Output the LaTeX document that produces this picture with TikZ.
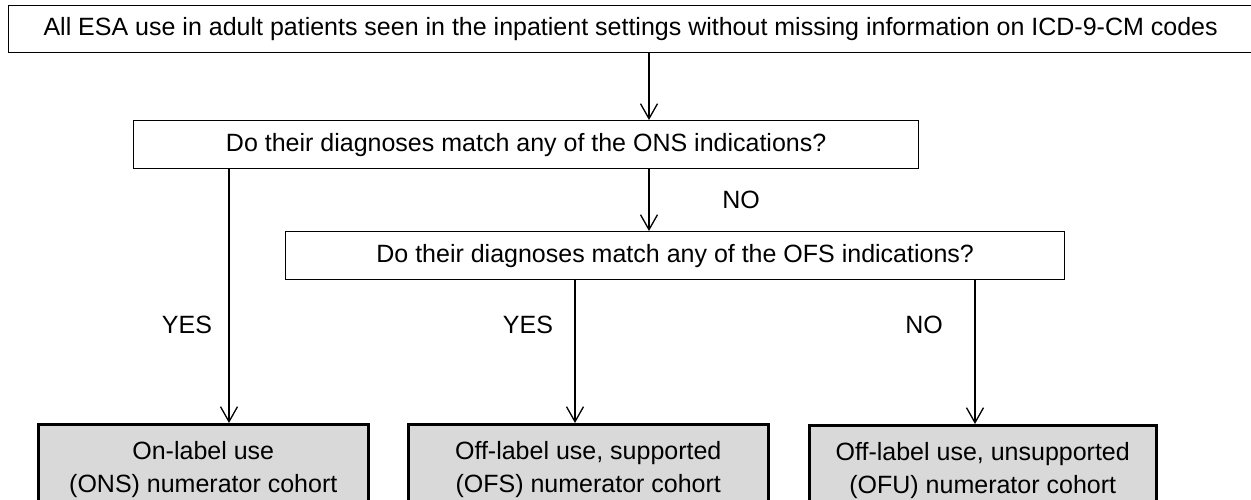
\documentclass[tikz,border=0pt]{standalone}
\usepackage{fontspec}
\setmainfont{Liberation Sans}
\usetikzlibrary{arrows.meta}
\definecolor{cohortfill}{HTML}{D9D9D9}
\begin{document}
\begin{tikzpicture}[x=1pt,y=-1pt,
  every node/.style={font=\fontsize{25}{33}\selectfont},
  question/.style={draw, line width=1.3pt, anchor=north west, inner sep=0pt},
  cohort/.style={draw, line width=2.5pt, fill=cohortfill, anchor=north west,
    inner sep=0pt, align=center, minimum height=90pt},
  flow/.style={line width=1.3pt, -{Straight Barb[length=15pt,width=17pt,line width=1.3pt]}},
  answer/.style={inner sep=0pt}]
\clip (0,0) rectangle (1251,500);
\fill[white] (0,0) rectangle (1251,500);

% decision chain
\node[question, minimum width=1244pt, minimum height=47pt] (all) at (8,5)
  {All ESA use in adult patients seen in the inpatient settings without missing information on ICD-9-CM codes};
\node[question, minimum width=785pt, minimum height=48pt] (ons) at (133,120)
  {Do their diagnoses match any of the ONS indications?};
\node[question, minimum width=779pt, minimum height=48pt] (ofs) at (285,231)
  {Do their diagnoses match any of the OFS indications?};

% resulting cohorts
\node[cohort, minimum width=330pt] (onl) at (37,423) {On-label use\\(ONS) numerator cohort};
\node[cohort, minimum width=360pt] (sup) at (407,423) {Off-label use, supported\\(OFS) numerator cohort};
\node[cohort, minimum width=347pt] (uns) at (808,424) {Off-label use, unsupported\\(OFU) numerator cohort};

% connector columns
\coordinate (cmain) at (649,0);
\coordinate (cons) at (229,0);
\coordinate (csup) at (575,0);
\coordinate (cuns) at (975,0);

\draw[flow] (cmain |- all.south) -- (cmain |- ons.north);
\draw[flow] (cmain |- ons.south) -- (cmain |- ofs.north);
\draw[flow] (cons |- ons.south) -- (cons |- onl.north);
\draw[flow] (csup |- ofs.south) -- (csup |- sup.north);
\draw[flow] (cuns |- ofs.south) -- (cuns |- uns.north);

% answers
\node[answer] (no1) at (741,200) {NO};
\node[answer] (yes1) at (187,325) {YES};
\node[answer] (yes2) at (528,325) {YES};
\node[answer] (no2) at (924,325) {NO};
\end{tikzpicture}
\end{document}
